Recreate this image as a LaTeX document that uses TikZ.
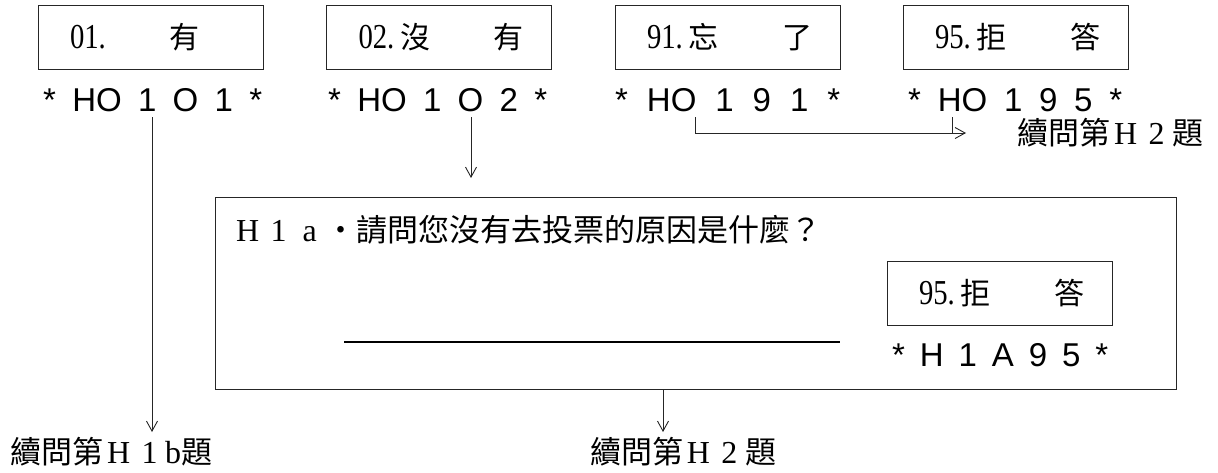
\documentclass[tikz,border=0pt]{standalone}
\usepackage{fontspec}
\setmainfont{Liberation Serif}
\newfontfamily\cjk{Noto Sans CJK TC}
\newfontfamily\codef{Liberation Sans}
\newfontfamily\numf[FakeStretch=0.82]{Liberation Serif}
\usetikzlibrary{arrows.meta}
\newcommand{\fw}[1]{\makebox[31pt]{#1}}
\newcommand{\ck}[1]{{\cjk\fontsize{30pt}{34pt}\selectfont #1}}
\newcommand{\nm}[1]{{\numf\fontsize{35pt}{38pt}\selectfont #1}}
\newcommand{\codestr}[2]{\makebox[#1]{\codef\fontsize{33pt}{36pt}\selectfont #2}}
\begin{document}
\begin{tikzpicture}[x=1pt,y=-1pt,
  optbox/.style={draw=black!85, line width=1pt, minimum width=225pt, minimum height=64pt, inner sep=0pt},
  code/.style={inner sep=0pt, minimum height=34pt, anchor=west},
  lbl/.style={inner sep=0pt, anchor=west, font=\fontsize{32pt}{34pt}\selectfont},
  conn/.style={line width=0.9pt, draw=black!85},
  arr/.style={conn, -{Straight Barb[length=10pt,width=11pt]}}]
\useasboundingbox (0,0) rectangle (1218,472);

% answer option boxes
\node[optbox] (b1) at (150.5,37) {\makebox[169pt][l]{\hspace{4pt}\nm{01.}\hspace{64pt}\ck{有}}};
\node[optbox] (b2) at (439,37) {\makebox[169pt][l]{\hspace{4pt}\nm{02.}\hspace{6pt}\ck{沒}\hfill\ck{有}}};
\node[optbox] (b3) at (727.5,37) {\makebox[169pt][l]{\hspace{4pt}\nm{91.}\hspace{6pt}\ck{忘}\hfill\ck{了}}};
\node[optbox] (b4) at (1015.5,37) {\makebox[169pt][l]{\hspace{4pt}\nm{95.}\hspace{6pt}\ck{拒}\hfill\ck{答}}};

% codes
\node[code] (c1) at (43,100) {\codestr{219pt}{*\hfill HO\hfill 1\hfill O\hfill 1\hfill *}};
\node[code] (c2) at (328,100) {\codestr{219pt}{*\hfill HO\hfill 1\hfill O\hfill 2\hfill *}};
\node[code] (c3) at (615,100) {\codestr{225pt}{*\hfill HO\hfill 1\hfill 9\hfill 1\hfill *}};
\node[code] (c4) at (908,100) {\codestr{214pt}{*\hfill HO\hfill 1\hfill 9\hfill 5\hfill *}};

% question frame
\node[draw=black!85, line width=1pt, minimum width=961pt, minimum height=192pt, inner sep=0pt] (q) at (695.5,293) {};
\node[lbl] (qt) at (232,230) {\fw{H}\fw{1}\fw{a}{\cjk\fontsize{31pt}{34pt}\selectfont ・請問您沒有去投票的原因是什麼？}};
\node[optbox] (b5) at (999.5,293) {\makebox[169pt][l]{\hspace{4pt}\nm{95.}\hspace{6pt}\ck{拒}\hfill\ck{答}}};
\node[code] (c5) at (892,355) {\codestr{216pt}{*\hfill H\hfill 1\hfill A\hfill 9\hfill 5\hfill *}};
\draw[line width=2.6pt] (344,342) -- (840,342);

% labels
\node[lbl] (l1) at (10,452) {{\cjk\fontsize{31pt}{34pt}\selectfont 續問第}\fw{H}\fw{1}b{\cjk\fontsize{31pt}{34pt}\selectfont 題}};
\node[lbl, anchor=center] (l2) at (683,452) {{\cjk\fontsize{31pt}{34pt}\selectfont 續問第}\fw{H}\fw{2}{\cjk\fontsize{31pt}{34pt}\selectfont 題}};
\node[lbl] (l3) at (1017,133) {{\cjk\fontsize{31pt}{34pt}\selectfont 續問第}\fw{H}\fw{2}{\cjk\fontsize{31pt}{34pt}\selectfont 題}};

% connectors
\coordinate (a1) at (152,432);
\draw[arr] (c1.south -| a1) -- (a1);
\coordinate (a2) at (471,178);
\draw[arr] (c2.south -| a2) -- (a2);
\coordinate (k3) at (695,133);
\coordinate (t3) at (966,133);
\draw[arr] (c3.south -| k3) |- (t3);
\coordinate (k4) at (952,133);
\draw[conn] (c4.south -| k4) -- (k4);
\coordinate (a4) at (663,432);
\draw[arr] (q.south -| a4) -- (a4);
\end{tikzpicture}
\end{document}
